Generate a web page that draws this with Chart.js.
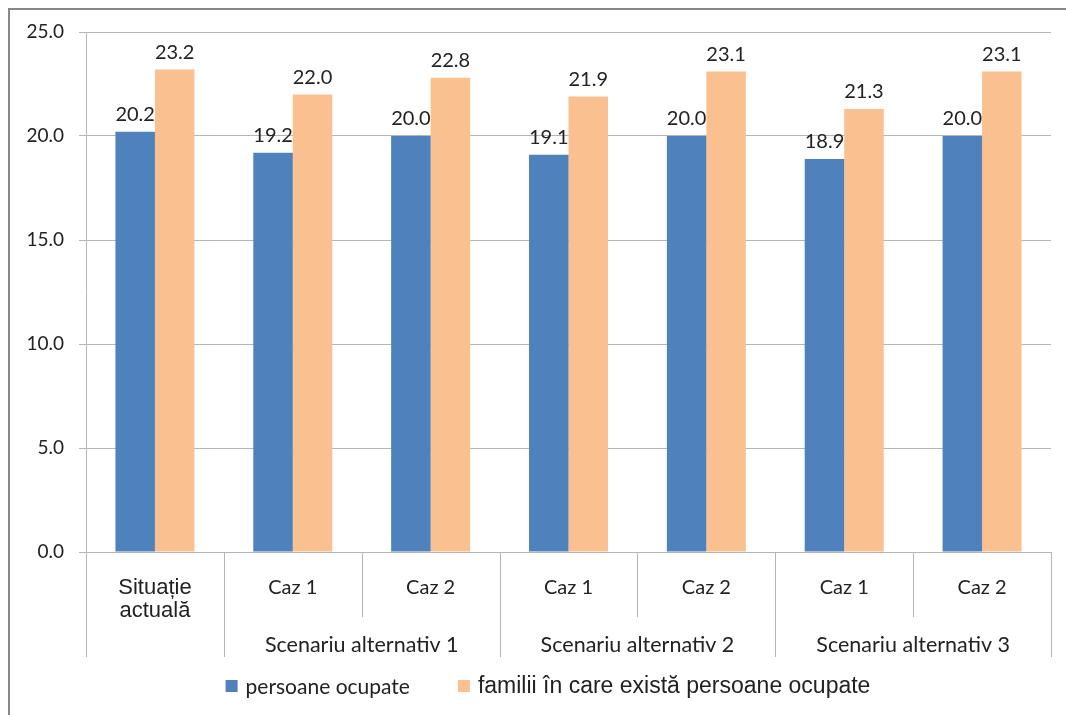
<!DOCTYPE html>
<html>
<head>
<meta charset="utf-8">
<script src="https://cdn.jsdelivr.net/npm/chart.js@4.4.1/dist/chart.umd.min.js"></script>
<style>
  html, body { margin: 0; padding: 0; background: #fff; }
  #wrap { width: 1066px; height: 715px; position: relative; }
</style>
</head>
<body>
<div id="wrap"><canvas id="chart"></canvas></div>
<script>
// categorii (nivelul 1) si grupuri (nivelul 2)
const categories = [['Situație', 'actuală'], 'Caz 1', 'Caz 2', 'Caz 1', 'Caz 2', 'Caz 1', 'Caz 2'];
const groupLabels = ['', 'Scenariu alternativ 1', 'Scenariu alternativ 2', 'Scenariu alternativ 3'];
const groupSizes = [1, 2, 2, 2];

const seriesNames = ['persoane ocupate', 'familii în care există persoane ocupate'];
const persoaneOcupate = [20.2, 19.2, 20.0, 19.1, 20.0, 18.9, 20.0];
const familiiOcupate = [23.2, 22.0, 22.8, 21.9, 23.1, 21.3, 23.1];

const yMin = 0, yMax = 25, yStep = 5;

const gridColor = '#b5b5b5';
const textColor = '#222';
const mainFont = 'Lato, "Open Sans", sans-serif';
const arialFont = '"Liberation Sans", Arial, sans-serif';

// rama exterioara (doar sus si stanga se vad)
const framePlugin = {
    id: 'frame',
    beforeDraw(chart) {
        const ctx = chart.ctx;
        ctx.save();
        ctx.strokeStyle = '#878787';
        ctx.lineWidth = 2;
        ctx.strokeRect(9, 9, chart.width + 12, chart.height + 20);
        ctx.restore();
    }
};

// valorile deasupra barelor
const valueLabels = {
    id: 'valueLabels',
    afterDatasetsDraw(chart) {
        const ctx = chart.ctx;
        ctx.save();
        ctx.font = '20px ' + mainFont;
        ctx.fillStyle = textColor;
        ctx.textAlign = 'center';
        ctx.textBaseline = 'bottom';
        chart.data.datasets.forEach((ds, di) => {
            chart.getDatasetMeta(di).data.forEach((bar, i) => {
                ctx.fillText(ds.data[i].toFixed(1), bar.x, bar.y - 7);
            });
        });
        ctx.restore();
    }
};

// axa x pe doua niveluri
const groupAxis = {
    id: 'groupAxis',
    afterDraw(chart) {
        const x = chart.scales.x;
        const ctx = chart.ctx;
        const top = chart.chartArea.bottom;
        const half = (x.getPixelForValue(1) - x.getPixelForValue(0)) / 2;
        const n = categories.length;

        const groupStarts = [];
        let acc = 0;
        groupSizes.forEach(s => { groupStarts.push(acc); acc += s; });
        groupStarts.push(n);

        ctx.save();
        ctx.strokeStyle = gridColor;
        ctx.lineWidth = 1;
        for (let b = 0; b <= n; b++) {
            const px = Math.round(b < n ? x.getPixelForValue(b) - half : x.getPixelForValue(n - 1) + half) + 0.5;
            const long = groupStarts.includes(b);
            ctx.beginPath();
            ctx.moveTo(px, top);
            ctx.lineTo(px, top + (long ? 105 : 65));
            ctx.stroke();
        }

        ctx.font = '21.5px ' + mainFont;
        ctx.fillStyle = textColor;
        ctx.textAlign = 'center';
        ctx.textBaseline = 'middle';
        groupLabels.forEach((lbl, g) => {
            if (!lbl) return;
            const a = x.getPixelForValue(groupStarts[g]);
            const b = x.getPixelForValue(groupStarts[g + 1] - 1);
            ctx.fillText(lbl, (a + b) / 2, top + 93);
        });
        ctx.restore();
    }
};

// legenda jos
const bottomLegend = {
    id: 'bottomLegend',
    afterDraw(chart) {
        const ctx = chart.ctx;
        const fonts = ['21px ' + mainFont, '23px ' + arialFont];
        const box = 12, gapText = 8, gapItem = 48;
        ctx.save();
        const items = chart.data.datasets.map((ds, i) => {
            ctx.font = fonts[i];
            return { text: ds.label, color: ds.backgroundColor, font: fonts[i], w: ctx.measureText(ds.label).width };
        });
        const total = items.reduce((s, it) => s + box + gapText + it.w, 0) + gapItem * (items.length - 1);
        let cx = 548 - total / 2;
        const cy = 686;
        ctx.textBaseline = 'middle';
        ctx.textAlign = 'left';
        items.forEach(it => {
            ctx.fillStyle = it.color;
            ctx.fillRect(cx, cy - box / 2, box, box);
            ctx.fillStyle = textColor;
            ctx.font = it.font;
            ctx.fillText(it.text, cx + box + gapText, cy + 1);
            cx += box + gapText + it.w + gapItem;
        });
        ctx.restore();
    }
};

const config = {
    type: 'bar',
    data: {
        labels: categories,
        datasets: [{
            label: seriesNames[0],
            data: persoaneOcupate,
            backgroundColor: '#4F81BD',
            categoryPercentage: 0.573,
            barPercentage: 1.0
        }, {
            label: seriesNames[1],
            data: familiiOcupate,
            backgroundColor: '#FAC090',
            categoryPercentage: 0.573,
            barPercentage: 1.0
        }]
    },
    options: {
        responsive: true,
        maintainAspectRatio: false,
        animation: false,
        layout: { padding: { top: 32, right: 15, bottom: 58, left: 0 } },
        plugins: {
            legend: { display: false },
            tooltip: { enabled: false }
        },
        scales: {
            x: {
                grid: { display: false },
                border: { display: false },
                ticks: {
                    autoSkip: false,
                    maxRotation: 0,
                    padding: 16,
                    color: textColor,
                    font: (c) => c.index === 0
                        ? { family: arialFont, size: 22, lineHeight: '23px' }
                        : { family: mainFont, size: 20, lineHeight: '24px' }
                },
                afterFit: (scale) => { scale.height = 105; }
            },
            y: {
                min: yMin,
                max: yMax,
                grid: { color: gridColor, tickLength: 7 },
                border: { color: gridColor },
                ticks: {
                    stepSize: yStep,
                    padding: 15,
                    color: textColor,
                    font: { family: mainFont, size: 19 },
                    callback: (v) => v.toFixed(1)
                },
                afterFit: (scale) => { scale.width = 86; }
            }
        }
    },
    plugins: [framePlugin, valueLabels, groupAxis, bottomLegend]
};

const ctx = document.getElementById('chart').getContext('2d');
new Chart(ctx, config);
</script>
</body>
</html>
